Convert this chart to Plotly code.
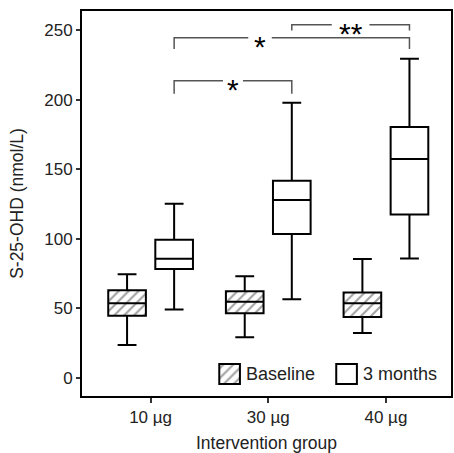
import plotly.graph_objects as go

groups = ["10 µg", "30 µg", "40 µg"]
series = ["Baseline", "3 months"]

base_low = [23.8, 29.3, 32.4]
base_q1 = [44.8, 46.5, 43.8]
base_med = [53.8, 54.8, 53.8]
base_q3 = [63.1, 62.4, 61.5]
base_high = [74.6, 73.1, 85.5]

m3_low = [49.3, 56.7, 86.0]
m3_q1 = [78.4, 103.6, 117.5]
m3_med = [85.8, 127.9, 157.5]
m3_q3 = [99.4, 141.8, 180.4]
m3_high = [125.3, 197.8, 229.5]

# significance brackets: (group a, group b, bar y, leg bottom y, label, label x or None for midpoint)
brackets = [
    (0, 1, 213.7, 204.4, "*", None),
    (0, 2, 244.5, 236.4, "*", 0.93),
    (1, 2, 254.0, 249.7, "**", None),
]

OFF = 0.2
BW = 0.32
idx = list(range(len(groups)))
xb = [i - OFF for i in idx]
xm = [i + OFF for i in idx]

FONT = "Liberation Sans, Arial, sans-serif"

fig = go.Figure()

# hatch fill for baseline boxes
fig.add_trace(go.Bar(
    x=xb, base=base_q1, y=[q3 - q1 for q1, q3 in zip(base_q1, base_q3)],
    width=[BW] * 3,
    marker=dict(color="white", line=dict(width=0),
                pattern=dict(shape="/", fgcolor="#444444", bgcolor="white", size=7, solidity=0.3)),
    showlegend=False, hoverinfo="skip",
))

box_style = dict(line=dict(color="black", width=2), fillcolor="rgba(0,0,0,0)",
                 whiskerwidth=0.5, width=BW, showlegend=False, boxpoints=False)
fig.add_trace(go.Box(x=xb, q1=base_q1, median=base_med, q3=base_q3,
                     lowerfence=base_low, upperfence=base_high, name=series[0], **box_style))
fig.add_trace(go.Box(x=xm, q1=m3_q1, median=m3_med, q3=m3_q3,
                     lowerfence=m3_low, upperfence=m3_high, name=series[1], **box_style))

# brackets, with a gap in the bar where the label sits
shapes = []
annotations = []
for a, b, yb, yl, lab, lx in brackets:
    x0 = a + OFF
    x1 = b + OFF
    if lx is None:
        lx = (x0 + x1) / 2
    half_gap = 0.085 if lab == "*" else 0.16
    if a == 0 and b == 2:
        half_gap = 0.1
    line = dict(color="#555555", width=1.5)
    shapes.append(dict(type="path", xref="x", yref="y",
                       path=f"M {x0},{yl} L {x0},{yb} L {lx - half_gap},{yb}", line=line))
    shapes.append(dict(type="path", xref="x", yref="y",
                       path=f"M {lx + half_gap},{yb} L {x1},{yb} L {x1},{yl}", line=line))
    annotations.append(dict(x=lx, y=yb, xref="x", yref="y", text=lab, showarrow=False,
                            font=dict(family=FONT, size=30, color="black"),
                            yshift=-9, yanchor="middle"))

# custom legend swatches (in an overlay axis spanning the plot area, 0..1)
leg_x = [0.400, 0.717]
leg_w = 0.056
leg_y0 = 0.031
leg_h = 0.052
fig.add_trace(go.Bar(
    x=[leg_x[0]], base=[leg_y0], y=[leg_h], width=[leg_w], xaxis="x2", yaxis="y2",
    marker=dict(color="white", line=dict(color="black", width=2),
                pattern=dict(shape="/", fgcolor="#444444", bgcolor="white", size=7, solidity=0.3)),
    showlegend=False, hoverinfo="skip"))
fig.add_trace(go.Bar(
    x=[leg_x[1]], base=[leg_y0], y=[leg_h], width=[leg_w], xaxis="x2", yaxis="y2",
    marker=dict(color="white", line=dict(color="black", width=2)),
    showlegend=False, hoverinfo="skip"))
for lx, name in zip(leg_x, series):
    annotations.append(dict(x=lx + leg_w / 2 + 0.012, y=leg_y0 + leg_h / 2, xref="x2", yref="y2",
                            text=name, showarrow=False, xanchor="left", yanchor="middle",
                            font=dict(family=FONT, size=18, color="#222222")))

fig.update_layout(
    width=454, height=453,
    margin=dict(l=82, r=1, t=11, b=55),
    paper_bgcolor="white", plot_bgcolor="white",
    barmode="overlay", boxmode="overlay",
    showlegend=False,
    font=dict(family=FONT, size=17, color="#222222"),
    shapes=shapes, annotations=annotations,
    xaxis=dict(range=[-0.583, 2.553], tickvals=idx, ticktext=groups,
               showline=True, linewidth=2, linecolor="black", mirror=True,
               ticks="outside", ticklen=5, tickwidth=1.5, tickcolor="#333333",
               showgrid=False, zeroline=False,
               title=dict(text="Intervention group", standoff=12, font=dict(size=17.5))),
    yaxis=dict(range=[-12.9, 263.8], tickvals=[0, 50, 100, 150, 200, 250],
               showline=True, linewidth=2, linecolor="black", mirror=True,
               ticks="outside", ticklen=4, tickwidth=1.5, tickcolor="#333333",
               showgrid=False, zeroline=False,
               title=dict(text="S-25-OHD (nmol/L)", standoff=16, font=dict(size=17.5))),
    xaxis2=dict(domain=[0, 1], anchor="y2", overlaying="x", range=[0, 1], visible=False),
    yaxis2=dict(domain=[0, 1], anchor="x2", overlaying="y", range=[0, 1], visible=False),
)

fig.write_html("out.html", config={"displayModeBar": False},
               post_script="document.body.style.margin='0';")
